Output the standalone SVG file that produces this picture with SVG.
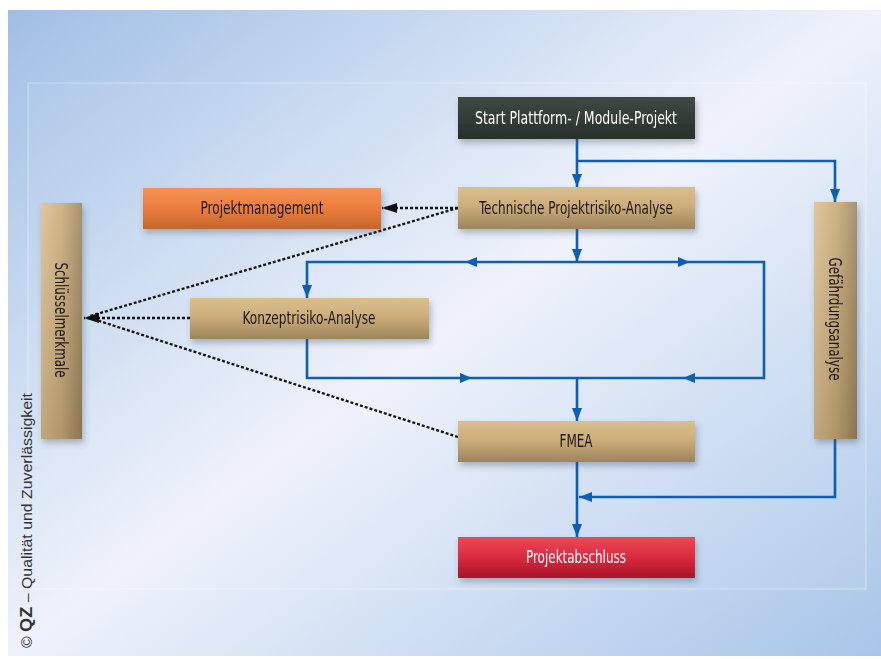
<svg xmlns="http://www.w3.org/2000/svg" width="881" height="659" viewBox="0 0 881 659">
<defs>
<style>
.lbl{font-family:"Liberation Sans Narrow","DejaVu Sans Condensed","Liberation Sans",sans-serif;font-size:17.5px;text-anchor:middle;dominant-baseline:central}
.dark{fill:#1b1712}
.light{fill:#ffffff}
.blue{fill:none;stroke:#0d5fb3;stroke-width:2.6}
.dot{fill:none;stroke:#111;stroke-width:2.3;stroke-dasharray:3 2}
.box{filter:url(#sh)}
</style>
<linearGradient id="bg" x1="0" y1="0" x2="1" y2="1">
<stop offset="0" stop-color="#a0bfe5"/>
<stop offset="0.5" stop-color="#eef2fb"/>
<stop offset="1" stop-color="#a8c5e8"/>
</linearGradient>
<linearGradient id="tan" x1="0" y1="0" x2="0" y2="1">
<stop offset="0" stop-color="#dbbe8e"/>
<stop offset="0.45" stop-color="#cdae7a"/>
<stop offset="1" stop-color="#9c845c"/>
</linearGradient>
<linearGradient id="tanv" x1="0" y1="0" x2="1" y2="0">
<stop offset="0" stop-color="#dbbe8e"/>
<stop offset="0.5" stop-color="#c9aa77"/>
<stop offset="1" stop-color="#9c845c"/>
</linearGradient>
<linearGradient id="tanv2" x1="0" y1="0" x2="0" y2="1">
<stop offset="0" stop-color="#ffffff" stop-opacity="0.12"/>
<stop offset="1" stop-color="#000000" stop-opacity="0.12"/>
</linearGradient>
<linearGradient id="drk" x1="0" y1="0" x2="0" y2="1">
<stop offset="0" stop-color="#3f4a43"/>
<stop offset="1" stop-color="#27302b"/>
</linearGradient>
<linearGradient id="org" x1="0" y1="0" x2="0" y2="1">
<stop offset="0" stop-color="#f59255"/>
<stop offset="0.5" stop-color="#ec7d3c"/>
<stop offset="1" stop-color="#c2652e"/>
</linearGradient>
<linearGradient id="red" x1="0" y1="0" x2="0" y2="1">
<stop offset="0" stop-color="#ec4a58"/>
<stop offset="0.5" stop-color="#d92a3e"/>
<stop offset="1" stop-color="#a8142a"/>
</linearGradient>
<filter id="sh" x="-10%" y="-20%" width="130%" height="160%">
<feDropShadow dx="2" dy="4" stdDeviation="3" flood-color="#3a4a60" flood-opacity="0.35"/>
</filter>
<marker id="ab" markerWidth="14" markerHeight="10" refX="13" refY="5" orient="auto" markerUnits="userSpaceOnUse">
<path d="M0,0 L13,5 L0,10 Z" fill="#0d5fb3"/>
</marker>
<marker id="ak" markerWidth="16" markerHeight="10" refX="15" refY="5" orient="auto" markerUnits="userSpaceOnUse">
<path d="M0,0 L15,5 L0,10 Z" fill="#111"/>
</marker>
<path id="mh" d="M0,0 L-12,-5 L-12,5 Z" fill="#0d5fb3"/>
</defs>

<rect x="0" y="0" width="881" height="659" fill="#ffffff"/>
<rect x="8" y="10" width="873" height="646" fill="url(#bg)"/>
<rect x="28" y="83" width="838" height="506" fill="#ffffff" fill-opacity="0.06" stroke="#ffffff" stroke-opacity="0.4" stroke-width="1"/>

<text x="32" y="648" transform="rotate(-90 32 648)" font-family="'Liberation Sans',Arial,sans-serif" font-size="14" fill="#333" textLength="255" lengthAdjust="spacingAndGlyphs">© <tspan font-weight="bold" font-size="16">QZ</tspan> – Qualität und Zuverlässigkeit</text>

<g id="connectors">
<path class="blue" d="M577,139 V187" marker-end="url(#ab)"/>
<path class="blue" d="M577,161 H835 V202" marker-end="url(#ab)"/>
<path class="blue" d="M577,229 V262" marker-end="url(#ab)"/>
<path class="blue" d="M577,262 H307 V298" marker-end="url(#ab)"/>
<path class="blue" d="M577,262 H764 V378 H577"/>
<path class="blue" d="M307,339 V378 H577"/>
<path class="blue" d="M577,378 V421" marker-end="url(#ab)"/>
<path class="blue" d="M577,462 V537" marker-end="url(#ab)"/>
<path class="blue" d="M835,439 V497 H579" marker-end="url(#ab)"/>
<use href="#mh" transform="translate(465 262) rotate(180)"/>
<use href="#mh" transform="translate(690 262)"/>
<use href="#mh" transform="translate(472 378)"/>
<use href="#mh" transform="translate(683 378) rotate(180)"/>
<path class="dot" d="M458,208 H382" marker-end="url(#ak)"/>
<path class="dot" d="M458,208 L90,316"/>
<path class="dot" d="M458,437 L90,318"/>
<path class="dot" d="M190,318 H84" marker-end="url(#ak)"/>
</g>

<g id="start" class="box">
<rect x="458" y="97" width="237" height="42" fill="url(#drk)"/>
<text class="lbl light" x="576" y="118" textLength="202" lengthAdjust="spacingAndGlyphs">Start Plattform- / Module-Projekt</text>
</g>
<g id="technische" class="box">
<rect x="458" y="187" width="237" height="42" fill="url(#tan)"/>
<text class="lbl dark" x="576" y="208" textLength="194" lengthAdjust="spacingAndGlyphs">Technische Projektrisiko-Analyse</text>
</g>
<g id="projektmanagement" class="box">
<rect x="143" y="188" width="238" height="41" fill="url(#org)"/>
<text class="lbl dark" x="262" y="208" textLength="123" lengthAdjust="spacingAndGlyphs">Projektmanagement</text>
</g>
<g id="schluesselmerkmale" class="box">
<rect x="41" y="203" width="41" height="236" fill="url(#tanv)"/>
<rect x="41" y="203" width="41" height="236" fill="url(#tanv2)"/>
<text class="lbl dark" x="61" y="320" transform="rotate(90 61 320)" textLength="115" lengthAdjust="spacingAndGlyphs">Schlüsselmerkmale</text>
</g>
<g id="konzept" class="box">
<rect x="190" y="298" width="239" height="41" fill="url(#tan)"/>
<text class="lbl dark" x="309" y="318" textLength="133" lengthAdjust="spacingAndGlyphs">Konzeptrisiko-Analyse</text>
</g>
<g id="gefaehrdung" class="box">
<rect x="814" y="202" width="43" height="237" fill="url(#tanv)"/>
<rect x="814" y="202" width="43" height="237" fill="url(#tanv2)"/>
<text class="lbl dark" x="835" y="319" transform="rotate(90 835 319)" textLength="123" lengthAdjust="spacingAndGlyphs">Gefährdungsanalyse</text>
</g>
<g id="fmea" class="box">
<rect x="458" y="421" width="237" height="41" fill="url(#tan)"/>
<text class="lbl dark" x="576" y="441" textLength="33" lengthAdjust="spacingAndGlyphs">FMEA</text>
</g>
<g id="projektabschluss" class="box">
<rect x="458" y="537" width="237" height="41" fill="url(#red)"/>
<text class="lbl light" x="576" y="557" textLength="100" lengthAdjust="spacingAndGlyphs">Projektabschluss</text>
</g>
</svg>
